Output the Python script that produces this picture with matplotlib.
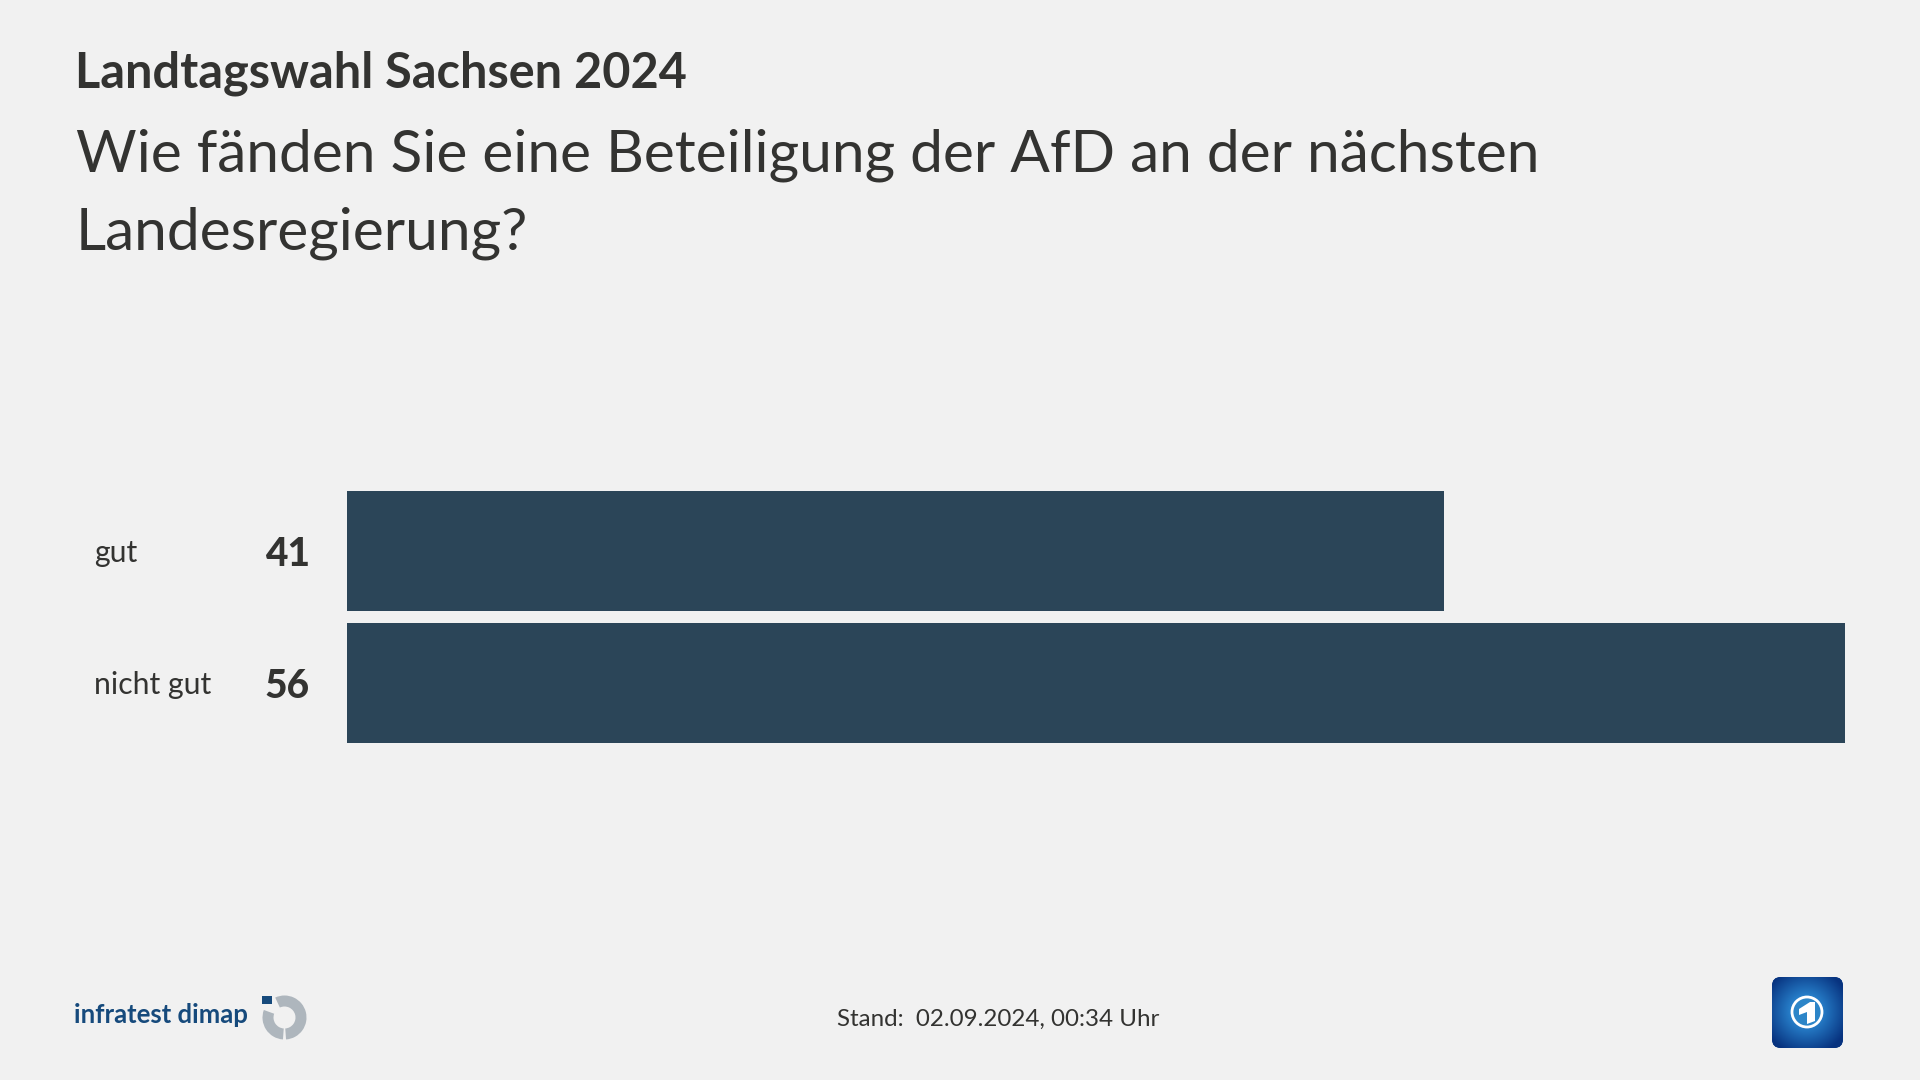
import numpy as np
import matplotlib
matplotlib.use("Agg")
import matplotlib.pyplot as plt
from matplotlib.patches import FancyBboxPatch, Wedge, Circle, Rectangle, Polygon

kicker = "Landtagswahl Sachsen 2024"
question = "Wie fänden Sie eine Beteiligung der AfD an der nächsten\nLandesregierung?"
categories = ["gut", "nicht gut"]
values = [41, 56]
footer = "Stand:  02.09.2024, 00:34 Uhr"
brand = "infratest dimap"

BG = "#f1f1f1"
INK = "#333331"
BAR = "#2b4558"
FONT = "Lato"
W, H = 1920, 1080

fig = plt.figure(figsize=(W / 100, H / 100), dpi=100, facecolor=BG)

ax = fig.add_axes([347 / W, 1 - 743 / H, (1845 - 347) / W, (743 - 491) / H])
ax.set_facecolor("none")
ypos = np.arange(len(categories))
ax.barh(ypos, values, height=120 / 132, color=BAR, linewidth=0)
ax.set_xlim(0, 56)
ax.set_ylim(1 + 60 / 132, -60 / 132)
ax.axis("off")

for y, cat, val in zip(ypos, categories, values):
    ax.annotate(cat, xy=(0, y), xycoords=("data", "data"), xytext=(-253, 1),
                textcoords="offset pixels", ha="left", va="center_baseline",
                fontsize=21.7, color=INK, family=FONT)
    ax.annotate(str(val), xy=(0, y), xycoords=("data", "data"), xytext=(-37, 0),
                textcoords="offset pixels", ha="right", va="center_baseline",
                fontsize=28, fontweight="black", color=INK, family=FONT)

ov = fig.add_axes([0, 0, 1, 1], facecolor="none")
ov.set_xlim(0, W)
ov.set_ylim(H, 0)
ov.axis("off")

ov.text(75, 73, kicker, fontsize=35, fontweight="bold", color=INK, family=FONT,
        ha="left", va="center")
ov.text(76, 155.5, question.split("\n")[0], fontsize=42.2, color=INK, family=FONT,
        ha="left", va="center")
ov.text(76, 233.5, question.split("\n")[1], fontsize=42.2, color=INK, family=FONT,
        ha="left", va="center")
ov.text(837, 1019, footer, fontsize=17.4, color=INK, family=FONT, ha="left", va="center")

# infratest dimap logo
ov.text(74, 1015, brand, fontsize=18.5, color="#164a7c", family=FONT,
        fontweight="bold", ha="left", va="center")
GREY = "#aeb6bd"
ov.add_patch(Wedge((284.5, 1017.5), 22, -115, 86, width=11, fc=GREY, lw=0))
ov.add_patch(Wedge((284.5, 1017.5), 22, 94, 200, width=11, fc=GREY, lw=0))
ov.add_patch(Rectangle((262, 996), 10, 7.5, fc="#164a7c", lw=0))

# Tagesschau logo
box = FancyBboxPatch((1772, 977), 71, 71, boxstyle="round,pad=0,rounding_size=9",
                     fc="#0a3f8c", lw=0)
ov.add_patch(box)
gy, gx = np.mgrid[0:1:160j, 0:1:160j]
r = np.hypot(gx - 0.48, gy - 0.48)
shade = np.clip(1 - r / 0.62, 0, 1)
c0 = np.array([0.03, 0.20, 0.50])
c1 = np.array([0.22, 0.66, 0.95])
img = c0 + (c1 - c0)[None, None, :] * shade[..., None]
im = ov.imshow(img, extent=(1772, 1843, 1048, 977), zorder=2, aspect="auto", interpolation="bilinear")
im.set_clip_path(box)
ov.set_xlim(0, W)
ov.set_ylim(H, 0)
ov.add_patch(Circle((1807, 1012), 15, fc="#2c85c8", ec="white", lw=2, zorder=3))
ov.add_patch(Polygon([[1799, 1009], [1810, 1002], [1815, 1002], [1815, 1021], [1807, 1024], [1807, 1012], [1799, 1015]],
                     closed=True, fc="white", lw=0, zorder=4))

fig.savefig("out.png", dpi=100, facecolor=BG)
